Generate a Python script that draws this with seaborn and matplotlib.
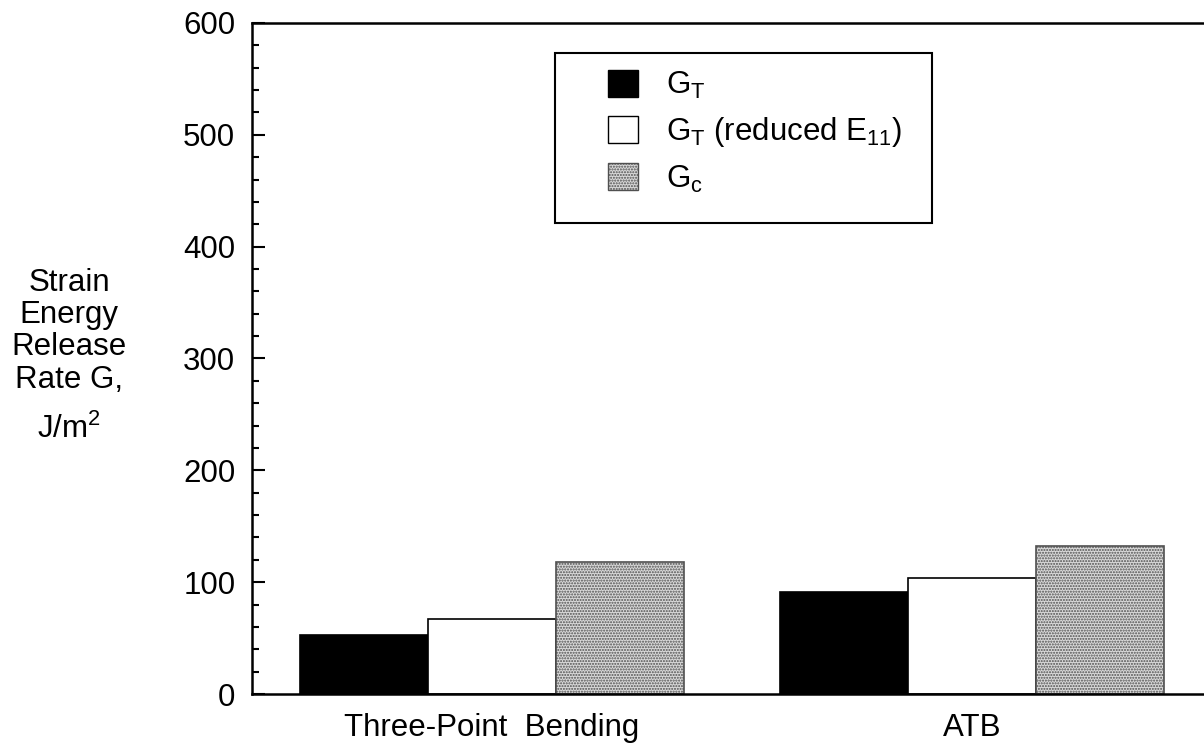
import pandas as pd
import matplotlib
matplotlib.use("Agg")
import matplotlib.pyplot as plt
from matplotlib.patches import Patch, Rectangle
from matplotlib.ticker import MultipleLocator
import seaborn as sns

# data
tests = ["Three-Point  Bending", "ATB"]
g_t = [53, 91]
g_t_reduced = [67, 104]
g_c = [118, 132]
series_labels = [r"$\mathregular{G_T}$",
                 r"$\mathregular{G_T}$ (reduced $\mathregular{E_{11}}$)",
                 r"$\mathregular{G_c}$"]

df = pd.DataFrame({
    "test": tests * 3,
    "G": g_t + g_t_reduced + g_c,
    "series": [s for s in series_labels for _ in tests],
})

sns.set_style("white")
plt.rcParams["font.family"] = ["Liberation Sans", "DejaVu Sans"]
plt.rcParams["mathtext.fontset"] = "custom"
plt.rcParams["mathtext.rm"] = "Liberation Sans"
plt.rcParams["mathtext.it"] = "Liberation Sans"
plt.rcParams["hatch.linewidth"] = 1.0
for key in ["text.color", "axes.labelcolor", "xtick.color", "ytick.color"]:
    plt.rcParams[key] = "black"

FS = 22.5
colors = ["black", "white", "#d9d9d9"]

fig = plt.figure(figsize=(12.04, 7.46), dpi=100)
ax = fig.add_axes([252 / 1204, 1 - 694 / 746, 960 / 1204, 671 / 746])

sns.barplot(data=df, x="test", y="G", hue="series", palette=colors,
            edgecolor="black", linewidth=1.2, width=0.8, legend=False, ax=ax)

# stippled fill for G_c
for bar in ax.containers[2]:
    bar.set_hatch("......")
    bar.set_edgecolor("#505050")

ax.set_xlim(-0.5, 1.5)
ax.set_ylim(0, 600)
ax.yaxis.set_major_locator(MultipleLocator(100))
ax.yaxis.set_minor_locator(MultipleLocator(20))
ax.set_xlabel("")
ax.set_ylabel("")

for side in ["left", "top", "bottom"]:
    ax.spines[side].set_visible(True)
    ax.spines[side].set_color("black")
    ax.spines[side].set_linewidth(1.8)
ax.spines["right"].set_visible(False)

ax.tick_params(axis="y", which="major", direction="in", length=9, width=1.5,
               labelsize=FS, pad=12, left=True)
ax.tick_params(axis="y", which="minor", direction="in", length=5, width=1.5,
               left=True)
ax.tick_params(axis="x", length=0, labelsize=FS, pad=14)

fig.text(69 / 1204, 0.556, "Strain\nEnergy\nRelease\nRate G,", ha="center",
         va="center", fontsize=FS, linespacing=1.1)
fig.text(69 / 1204, 0.424, r"J/m$^\mathregular{2}$", ha="center",
         va="center", fontsize=FS)

# legend box
fig.add_artist(Rectangle((555 / 1204, 1 - 223 / 746), 377 / 1204, 170 / 746,
                         transform=fig.transFigure, facecolor="white",
                         edgecolor="black", linewidth=1.5, zorder=5))

handles = [
    Patch(facecolor="black", edgecolor="black"),
    Patch(facecolor="white", edgecolor="black"),
    Patch(facecolor="#d9d9d9", edgecolor="#505050", hatch="......"),
]
leg = fig.legend(handles, series_labels, loc="upper left",
                 bbox_to_anchor=(608 / 1204, 1 - 70 / 746), fontsize=FS,
                 frameon=False, handlelength=0.95, handleheight=0.95,
                 handletextpad=0.9, borderpad=0, labelspacing=0.45,
                 borderaxespad=0)
leg.set_zorder(6)

fig.savefig("out.png", dpi=100)
